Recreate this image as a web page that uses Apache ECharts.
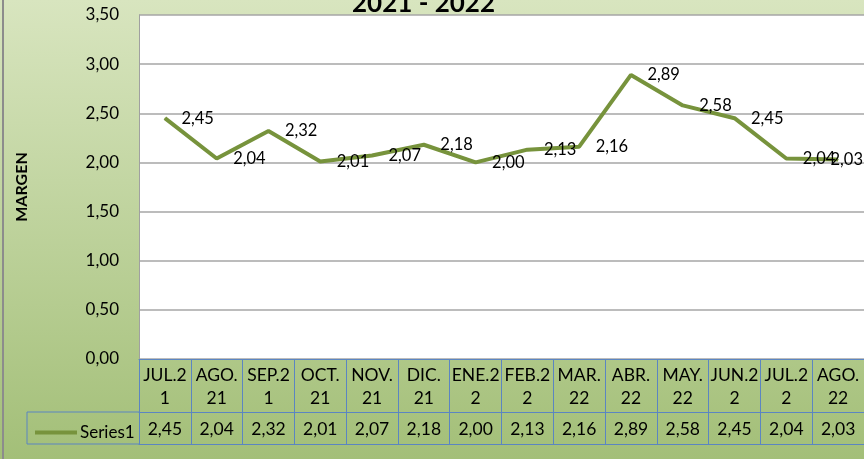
<!DOCTYPE html>
<html>
<head>
<meta charset="utf-8">
<script src="https://cdn.jsdelivr.net/npm/echarts@6/dist/echarts.min.js"></script>
<style>
  html, body { margin: 0; padding: 0; }
  #chart { width: 864px; height: 459px; }
</style>
</head>
<body>
<div id="chart"></div>
<script>
var categories = ['JUL.21', 'AGO.21', 'SEP.21', 'OCT.21', 'NOV.21', 'DIC.21', 'ENE.22',
  'FEB.22', 'MAR.22', 'ABR.22', 'MAY.22', 'JUN.22', 'JUL.22', 'AGO.22'];
// header labels as they wrap in the table
var tickLabels = ['JUL.2\n1', 'AGO.\n21', 'SEP.2\n1', 'OCT.\n21', 'NOV.\n21', 'DIC.\n21', 'ENE.2\n2',
  'FEB.2\n2', 'MAR.\n22', 'ABR.\n22', 'MAY.\n22', 'JUN.2\n2', 'JUL.2\n2', 'AGO.\n22'];
var margen = [2.45, 2.04, 2.32, 2.01, 2.07, 2.18, 2.00, 2.13, 2.16, 2.89, 2.58, 2.45, 2.04, 2.03];
var yTicks = [0, 0.5, 1, 1.5, 2, 2.5, 3, 3.5];

var FONT = 'Lato';
var TABLE_BLUE = '#5b85c2';

function fmt(v) {
  return v.toFixed(2).replace('.', ',');
}

var chart = echarts.init(document.getElementById('chart'));

var option = {
  animation: false,
  backgroundColor: {
    type: 'linear', x: 0, y: 0, x2: 0, y2: 1,
    colorStops: [
      { offset: 0, color: '#d8e5bf' },
      { offset: 1, color: '#a3bf78' }
    ]
  },
  textStyle: { fontFamily: FONT },
  title: {
    text: '2021 - 2022',
    left: 347,
    top: -14,
    textStyle: { fontSize: 26, fontWeight: 'bold', color: '#000', fontFamily: FONT }
  },
  legend: {
    data: ['Series1'],
    left: 30,
    top: 419,
    icon: 'rect',
    itemWidth: 42,
    itemHeight: 4,
    itemGap: 4,
    textStyle: { fontSize: 17, color: '#000', fontFamily: FONT, padding: [0, 0, 0, -2] }
  },
  grid: {
    left: 139, top: 15, right: -9, bottom: 100,
    show: true, backgroundColor: '#fff', borderWidth: 0
  },
  xAxis: [
    {
      type: 'category',
      data: categories,
      position: 'bottom',
      boundaryGap: true,
      axisLine: { show: true, lineStyle: { color: TABLE_BLUE, width: 1 } },
      axisTick: { show: true, interval: 0, length: 86, lineStyle: { color: TABLE_BLUE, width: 1 } },
      axisLabel: {
        interval: 0, margin: 5, fontSize: 17.5, lineHeight: 23, color: '#000', fontFamily: FONT,
        formatter: function (v, i) { return tickLabels[i]; }
      }
    },
    {
      type: 'category',
      data: categories,
      position: 'bottom',
      offset: 53,
      axisLine: { show: true, lineStyle: { color: TABLE_BLUE, width: 1 } },
      axisTick: { show: false },
      axisLabel: {
        interval: 0, margin: 8, fontSize: 17.5, color: '#000', fontFamily: FONT,
        formatter: function (v, i) { return fmt(margen[i]); }
      }
    },
    {
      type: 'category',
      data: categories,
      position: 'bottom',
      offset: 85,
      axisLine: { show: true, lineStyle: { color: TABLE_BLUE, width: 1 } },
      axisTick: { show: false },
      axisLabel: { show: false }
    }
  ],
  yAxis: {
    type: 'value',
    min: yTicks[0],
    max: yTicks[yTicks.length - 1],
    interval: 0.5,
    name: 'MARGEN',
    nameLocation: 'middle',
    nameGap: 109,
    nameRotate: 90,
    nameTextStyle: { fontSize: 16, fontWeight: 'bold', color: '#000', fontFamily: FONT },
    axisLine: { show: true, lineStyle: { color: '#a0a0a0', width: 1 } },
    axisTick: { show: false },
    axisLabel: {
      margin: 20, fontSize: 17, color: '#000', fontFamily: FONT,
      formatter: function (v) { return fmt(v); }
    },
    splitLine: { show: true, lineStyle: { color: '#a6a6a6', width: 1.5 } }
  },
  series: [
    {
      name: 'Series1',
      type: 'line',
      data: margen,
      symbol: 'circle',
      symbolSize: 1,
      showSymbol: true,
      lineStyle: { color: '#77933c', width: 4 },
      itemStyle: { color: '#77933c' },
      label: {
        show: true,
        position: 'right',
        distance: 16,
        offset: [0, 2],
        fontSize: 16.5,
        color: '#000',
        fontFamily: FONT,
        formatter: function (p) { return fmt(p.value); }
      },
      labelLayout: function (params) {
        var r = params.labelRect;
        if (r && r.x + r.width > 863) {
          return { dx: 863 - (r.x + r.width) };
        }
        return {};
      }
    }
  ],
  graphic: [
    { type: 'line', shape: { x1: 27, y1: 412, x2: 139, y2: 412 }, style: { stroke: TABLE_BLUE, lineWidth: 1 } },
    { type: 'line', shape: { x1: 27, y1: 444, x2: 139, y2: 444 }, style: { stroke: TABLE_BLUE, lineWidth: 1 } },
    { type: 'line', shape: { x1: 27, y1: 412, x2: 27, y2: 444 }, style: { stroke: TABLE_BLUE, lineWidth: 1 } },
    { type: 'line', shape: { x1: 3, y1: 0, x2: 3, y2: 459 }, style: { stroke: '#8c8c8c', lineWidth: 2 } }
  ]
};

chart.setOption(option);
</script>
</body>
</html>
